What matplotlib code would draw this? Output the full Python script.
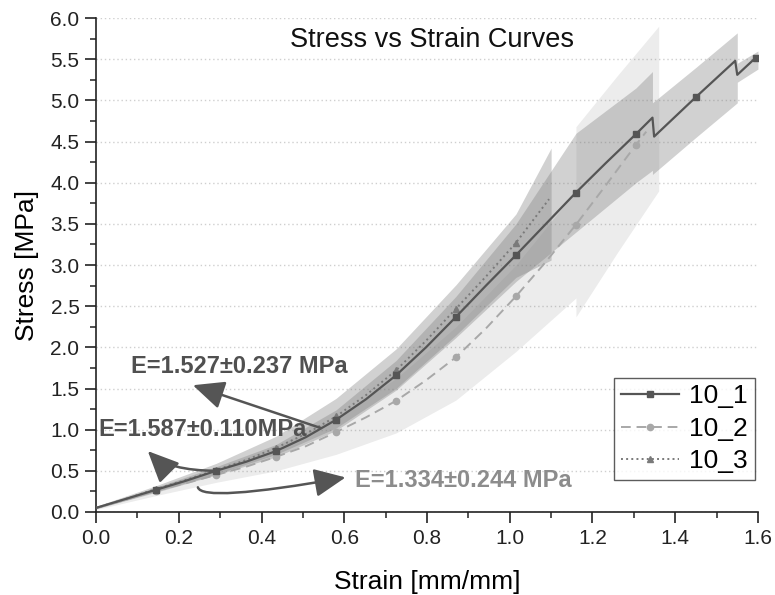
import matplotlib
matplotlib.use("Agg")
import matplotlib.pyplot as plt
from matplotlib.ticker import MultipleLocator, FormatStrFormatter

plt.rcParams["font.family"] = ["Liberation Sans", "DejaVu Sans"]

# mean curves (strain [mm/mm], stress [MPa])
strain_1 = [0, 0.0725, 0.145, 0.2175, 0.29, 0.3625, 0.435, 0.5075, 0.58, 0.6525,
            0.725, 0.7975, 0.87, 0.9425, 1.015, 1.0875, 1.16, 1.2325, 1.305,
            1.345, 1.349, 1.45, 1.545, 1.55, 1.595]
stress_1 = [0.05, 0.16, 0.27, 0.38, 0.50, 0.61, 0.74, 0.91, 1.12, 1.37,
            1.66, 2.00, 2.37, 2.75, 3.12, 3.50, 3.88, 4.24, 4.59,
            4.79, 4.56, 5.04, 5.48, 5.31, 5.52]
marks_1 = [2, 4, 6, 8, 10, 12, 14, 16, 18, 21, 24]

strain_2 = [0, 0.0725, 0.145, 0.2175, 0.29, 0.3625, 0.435, 0.5075, 0.58, 0.6525,
            0.725, 0.7975, 0.87, 0.9425, 1.015, 1.0875, 1.16, 1.2325, 1.305, 1.33]
stress_2 = [0.05, 0.15, 0.26, 0.35, 0.45, 0.55, 0.67, 0.80, 0.97, 1.15,
            1.35, 1.60, 1.88, 2.23, 2.62, 3.04, 3.49, 3.97, 4.46, 4.62]
marks_2 = [2, 4, 6, 8, 10, 12, 14, 16, 18]

strain_3 = [0, 0.0725, 0.145, 0.2175, 0.29, 0.3625, 0.435, 0.5075, 0.58, 0.6525,
            0.725, 0.7975, 0.87, 0.9425, 1.015, 1.095]
stress_3 = [0.05, 0.16, 0.28, 0.39, 0.51, 0.63, 0.78, 0.95, 1.16, 1.42,
            1.72, 2.08, 2.47, 2.86, 3.27, 3.80]
marks_3 = [2, 4, 6, 8, 10, 12, 14]

# standard deviation bands
band_s1 = [0, 0.145, 0.29, 0.435, 0.58, 0.725, 0.87, 1.015, 1.16, 1.305,
           1.345, 1.345, 1.45, 1.55, 1.55, 1.6]
band_lo1 = [0.04, 0.24, 0.45, 0.67, 0.99, 1.48, 2.12, 2.80, 3.40, 4.00,
            4.15, 4.10, 4.55, 4.97, 5.22, 5.38]
band_hi1 = [0.06, 0.30, 0.55, 0.82, 1.24, 1.84, 2.62, 3.50, 4.60, 5.15,
            5.35, 4.97, 5.40, 5.82, 5.45, 5.60]

band_s2 = [0, 0.145, 0.29, 0.435, 0.58, 0.725, 0.87, 1.015, 1.16, 1.16, 1.26, 1.36]
band_lo2 = [0.03, 0.20, 0.36, 0.50, 0.70, 0.96, 1.36, 1.95, 2.60, 2.37, 3.15, 3.90]
band_hi2 = [0.07, 0.30, 0.52, 0.80, 1.15, 1.62, 2.25, 3.00, 3.90, 4.68, 5.30, 5.90]

band_s3 = [0, 0.145, 0.29, 0.435, 0.58, 0.725, 0.87, 1.015, 1.1]
band_lo3 = [0.04, 0.25, 0.46, 0.70, 1.02, 1.50, 2.15, 2.85, 3.06]
band_hi3 = [0.07, 0.32, 0.59, 0.92, 1.38, 1.98, 2.76, 3.62, 4.42]

labels = ["10_1", "10_2", "10_3"]

fig = plt.figure(figsize=(7.75, 5.95), dpi=100)
ax = fig.add_axes([0.124, 0.1395, 0.854, 0.8302])

ax.fill_between(band_s2, band_lo2, band_hi2, color="#808080", alpha=0.15, lw=0)
ax.fill_between(band_s1, band_lo1, band_hi1, color="#808080", alpha=0.36, lw=0)
ax.fill_between(band_s3, band_lo3, band_hi3, color="#808080", alpha=0.36, lw=0)

ax.plot(strain_2, stress_2, color="#a8a8a8", lw=1.4, dashes=(5, 3),
        marker="o", ms=4.5, markevery=marks_2, label=labels[1], zorder=3)
ax.plot(strain_3, stress_3, color="#7a7a7a", lw=1.4, ls=":",
        marker="^", ms=5, markevery=marks_3, label=labels[2], zorder=3)
ax.plot(strain_1, stress_1, color="#555555", lw=1.6,
        marker="s", ms=4.5, markevery=marks_1, label=labels[0], zorder=4)

# annotations
arrow = dict(arrowstyle="-|>,head_length=0.55,head_width=0.25", color="#555555",
             lw=1.8, mutation_scale=35, shrinkA=0, shrinkB=0)
ax.annotate("", xy=(0.234, 1.54), xytext=(0.543, 1.02), arrowprops=arrow, zorder=5)
ax.annotate("", xy=(0.125, 0.74), xytext=(0.294, 0.50),
            arrowprops=dict(arrow, connectionstyle="angle3,angleA=180,angleB=135"), zorder=5)
ax.annotate("", xy=(0.603, 0.42), xytext=(0.246, 0.30),
            arrowprops=dict(arrow, connectionstyle="angle3,angleA=-75,angleB=10"), zorder=5)

ax.text(0.084, 1.77, "E=1.527±0.237 MPa", fontsize=17, fontweight="bold",
        color="#505050", va="center", ha="left", zorder=6)
ax.text(0.005, 1.00, "E=1.587±0.110MPa", fontsize=17, fontweight="bold",
        color="#505050", va="center", ha="left", zorder=6)
ax.text(0.627, 0.38, "E=1.334±0.244 MPa", fontsize=17, fontweight="bold",
        color="#8c8c8c", va="center", ha="left", zorder=6)

ax.text(0.508, 0.955, "Stress vs Strain Curves", transform=ax.transAxes,
        fontsize=19.5, ha="center", va="center", color="#111111")

ax.set_xlim(0, 1.6)
ax.set_ylim(0, 6)
ax.xaxis.set_major_locator(MultipleLocator(0.2))
ax.xaxis.set_minor_locator(MultipleLocator(0.1))
ax.yaxis.set_major_locator(MultipleLocator(0.5))
ax.yaxis.set_minor_locator(MultipleLocator(0.25))
ax.xaxis.set_major_formatter(FormatStrFormatter("%.1f"))
ax.yaxis.set_major_formatter(FormatStrFormatter("%.1f"))
ax.tick_params(which="major", direction="out", length=8, width=1.2,
               labelsize=15, colors="#222222", pad=4)
ax.tick_params(which="minor", direction="out", length=4, width=1.1, colors="#222222")

for side in ["top", "right"]:
    ax.spines[side].set_visible(False)
for side in ["left", "bottom"]:
    ax.spines[side].set_linewidth(1.2)
    ax.spines[side].set_color("#222222")

ax.set_axisbelow(True)
ax.yaxis.grid(True, linestyle=(0, (1, 2)), color="#cfcfcf", lw=1.0)

ax.set_xlabel("Strain [mm/mm]", fontsize=19, labelpad=16)
ax.set_ylabel("Stress [MPa]", fontsize=19, labelpad=8)

handles, labs = ax.get_legend_handles_labels()
order = [2, 0, 1]
leg = ax.legend([handles[i] for i in order], [labs[i] for i in order],
                loc="lower right", bbox_to_anchor=(0.995, 0.065), fontsize=19,
                frameon=True, fancybox=False, edgecolor="#333333",
                handlelength=2.2, handletextpad=0.4, labelspacing=0.32,
                borderpad=0.25, borderaxespad=0)
leg.get_frame().set_linewidth(1.0)

fig.savefig("out.png", dpi=100)
